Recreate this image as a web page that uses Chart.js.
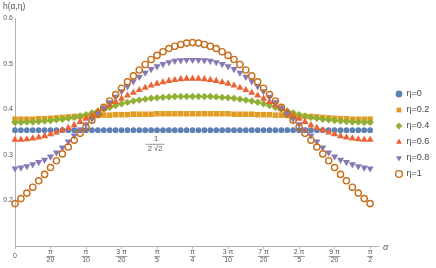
<!DOCTYPE html>
<html>
<head>
<meta charset="utf-8">
<script src="https://cdn.jsdelivr.net/npm/chart.js@4.4.0/dist/chart.umd.min.js"></script>
<style>
  html, body { margin: 0; padding: 0; background: #fff; }
</style>
</head>
<body>
<canvas id="myChart" width="436" height="268"></canvas>
<script>
// alpha in degrees (0 .. pi/2)
var alphaDeg = [0,1.5,3,4.5,6,7.5,9,10.5,12,13.5,15,16.5,18,19.5,21,22.5,24,25.5,27,28.5,
    30,31.5,33,34.5,36,37.5,39,40.5,42,43.5,45,46.5,48,49.5,51,52.5,54,55.5,57,58.5,
    60,61.5,63,64.5,66,67.5,69,70.5,72,73.5,75,76.5,78,79.5,81,82.5,84,85.5,87,88.5,90];

var etaLabels = ['η=0', 'η=0.2', 'η=0.4', 'η=0.6', 'η=0.8', 'η=1'];

var hEta0 = [0.354,0.354,0.354,0.354,0.354,0.354,0.354,0.354,0.354,0.354,
    0.354,0.354,0.354,0.354,0.354,0.354,0.354,0.354,0.354,0.354,
    0.354,0.354,0.354,0.354,0.354,0.354,0.354,0.354,0.354,0.354,
    0.354,0.354,0.354,0.354,0.354,0.354,0.354,0.354,0.354,0.354,
    0.354,0.354,0.354,0.354,0.354,0.354,0.354,0.354,0.354,0.354,
    0.354,0.354,0.354,0.354,0.354,0.354,0.354,0.354,0.354,0.354,0.354];

var hEta02 = [0.378,0.378,0.378,0.378,0.379,0.379,0.380,0.381,0.382,0.383,0.384,0.384,0.385,0.386,0.386,
    0.387,0.387,0.388,0.388,0.388,0.389,0.389,0.389,0.389,0.390,0.390,0.390,0.390,0.390,0.390,0.390,
    0.390,0.390,0.390,0.390,0.390,0.390,0.389,0.389,0.389,0.389,0.388,0.388,0.388,0.387,0.387,
    0.386,0.386,0.385,0.384,0.384,0.383,0.382,0.381,0.380,0.379,0.379,0.378,0.378,0.378,0.378];

var hEta04 = [0.371,0.371,0.372,0.372,0.373,0.374,0.375,0.377,0.378,0.380,0.382,0.385,0.388,0.392,0.396,
    0.400,0.404,0.408,0.412,0.415,0.418,0.420,0.422,0.424,0.425,0.426,0.427,0.428,0.428,0.428,0.428,
    0.428,0.428,0.428,0.427,0.426,0.425,0.424,0.422,0.420,0.418,0.415,0.412,0.408,0.404,0.400,
    0.396,0.392,0.388,0.385,0.382,0.380,0.378,0.377,0.375,0.374,0.373,0.372,0.372,0.371,0.371];

var hEta06 = [0.333,0.333,0.334,0.336,0.338,0.341,0.345,0.349,0.354,0.359,0.365,0.372,0.379,0.386,0.394,
    0.401,0.409,0.416,0.423,0.430,0.436,0.442,0.447,0.452,0.456,0.459,0.462,0.464,0.466,0.467,0.467,
    0.467,0.466,0.464,0.462,0.459,0.456,0.452,0.447,0.442,0.436,0.430,0.423,0.416,0.409,0.401,
    0.394,0.386,0.379,0.372,0.365,0.359,0.354,0.349,0.345,0.341,0.338,0.336,0.334,0.333,0.333];

var hEta08 = [0.270,0.272,0.275,0.279,0.284,0.289,0.296,0.305,0.316,0.329,0.342,0.355,0.367,0.379,0.391,
    0.403,0.415,0.427,0.439,0.450,0.461,0.471,0.480,0.488,0.494,0.499,0.503,0.506,0.507,0.508,0.508,
    0.508,0.507,0.506,0.503,0.499,0.494,0.488,0.480,0.471,0.461,0.450,0.439,0.427,0.415,0.403,
    0.391,0.379,0.367,0.355,0.342,0.329,0.316,0.305,0.296,0.289,0.284,0.279,0.275,0.272,0.270];

var hEta1 = [0.193,0.204,0.216,0.229,0.243,0.257,0.272,0.287,0.302,0.317,0.332,0.347,0.361,0.376,0.390,
    0.404,0.418,0.432,0.446,0.460,0.473,0.486,0.498,0.509,0.518,0.526,0.533,0.538,0.542,0.545,0.546,
    0.545,0.542,0.538,0.533,0.526,0.518,0.509,0.498,0.486,0.473,0.460,0.446,0.432,0.418,0.404,
    0.390,0.376,0.361,0.347,0.332,0.317,0.302,0.287,0.272,0.257,0.243,0.229,0.216,0.204,0.193];

// x ticks at k*pi/20, label = numerator over denominator
var xTickDeg = [0, 9, 18, 27, 36, 45, 54, 63, 72, 81, 90];
var xTickTop = ['0', 'π', 'π', '3 π', 'π', 'π', '3 π', '7 π', '2 π', '9 π', 'π'];
var xTickBottom = ['', '20', '10', '20', '5', '4', '10', '20', '5', '20', '2'];

var yTicks = [0.2, 0.3, 0.4, 0.5, 0.6];

var series = [hEta0, hEta02, hEta04, hEta06, hEta08, hEta1];

// marker styles, in the same order as series
var fillColors = ['#5e81b5', '#e19c24', '#8fb032', '#eb6235', '#8778b3', 'rgba(0,0,0,0)'];
var lineColors = ['#5e81b5', '#e19c24', '#8fb032', '#eb6235', '#8778b3', '#c56e1a'];
var shapes = ['circle', 'rect', 'rectRot', 'triangle', 'triangle', 'circle'];
var rotations = [0, 0, 0, 0, 180, 0];
var radii = [2.9, 3.9, 3.7, 4.1, 4.1, 3.1];
var borders = [0, 0, 0, 0, 0, 1.4];

var fontFam = '"Liberation Sans", Arial, sans-serif';
var axisColor = '#b0b0b0';
var textColor = '#555';

var datasets = series.map(function(vals, i) {
    return {
        label: etaLabels[i],
        data: vals.map(function(v, k) { return {x: alphaDeg[k], y: v}; }),
        backgroundColor: fillColors[i],
        borderColor: lineColors[i],
        borderWidth: borders[i],
        pointStyle: shapes[i],
        rotation: rotations[i],
        pointRadius: radii[i],
        pointHoverRadius: radii[i],
        showLine: false,
        clip: false,
        order: series.length - i
    };
});

// texts that are not ticks: axis names, 1/(2 sqrt 2) note, fraction bars
var extraText = {
    id: 'extraText',
    afterInit: function(chart) {
        // legend keeps a fixed width so the plot ends where the axis ends
        var lg = chart.legend;
        var fit = lg.fit;
        lg.fit = function() { fit.call(this); this.width = 58; };
    },
    afterLayout: function(chart) {
        chart.legend.left += 11;
        chart.legend.right += 11;
        chart.legend.top -= 9;
        chart.legend.bottom -= 9;
    },
    afterDraw: function(chart) {
        var ctx = chart.ctx, xs = chart.scales.x, ys = chart.scales.y, area = chart.chartArea;
        ctx.save();
        ctx.fillStyle = textColor;
        ctx.strokeStyle = textColor;
        ctx.textBaseline = 'middle';

        ctx.font = '8.5px ' + fontFam;
        ctx.textAlign = 'left';
        ctx.fillText('h(α,η)', area.left - 12, area.top - 11);

        ctx.font = 'italic 9px ' + fontFam;
        ctx.fillText('α', area.right + 5, area.bottom + 1);

        // fraction bars under the pi numerators
        ctx.font = '7px ' + fontFam;
        ctx.lineWidth = 0.6;
        xs.ticks.forEach(function(t, i) {
            if (!xTickBottom[i]) return;
            var x = xs.getPixelForTick(i);
            var w = Math.max(ctx.measureText(xTickTop[i]).width, ctx.measureText(xTickBottom[i]).width) + 1;
            ctx.beginPath();
            ctx.moveTo(x - w / 2, area.bottom + 10.5);
            ctx.lineTo(x + w / 2, area.bottom + 10.5);
            ctx.stroke();
        });

        // 1/(2 sqrt 2) next to the eta=0 row
        var cx = xs.getPixelForValue(35.5), cy = ys.getPixelForValue(0.323);
        ctx.font = '7.5px ' + fontFam;
        ctx.textAlign = 'center';
        ctx.fillText('1', cx + 1, cy - 5);
        ctx.fillText('2 √2', cx, cy + 5);
        ctx.beginPath();
        ctx.moveTo(cx - 9.5, cy);
        ctx.lineTo(cx + 9.5, cy);
        ctx.stroke();
        ctx.restore();
    }
};

var ctx = document.getElementById('myChart');

var myChart = new Chart(ctx, {
    type: 'scatter',
    data: { datasets: datasets },
    options: {
        responsive: false,
        animation: false,
        layout: { padding: { top: 18, left: 0, right: 0, bottom: 0 } },
        plugins: {
            tooltip: { enabled: false },
            legend: {
                position: 'right',
                align: 'center',
                labels: {
                    usePointStyle: true,
                    boxWidth: 6,
                    boxHeight: 4.8,
                    padding: 7,
                    color: '#444',
                    font: { size: 9, family: fontFam },
                    sort: function(a, b) { return a.datasetIndex - b.datasetIndex; }
                }
            }
        },
        scales: {
            x: {
                type: 'linear',
                min: 0,
                max: 92,
                afterFit: function(scale) { scale.height = 22; },
                afterBuildTicks: function(scale) {
                    scale.ticks = xTickDeg.map(function(v) { return {value: v}; });
                },
                border: { color: axisColor, width: 1 },
                grid: { drawOnChartArea: false, drawTicks: true, tickLength: 3, color: axisColor },
                ticks: {
                    autoSkip: false,
                    maxRotation: 0,
                    padding: 3.5,
                    crossAlign: 'center',
                    color: textColor,
                    font: { size: 7, family: fontFam, lineHeight: 1.15 },
                    callback: function(value, index) {
                        return xTickBottom[index] ? [xTickTop[index], xTickBottom[index]] : xTickTop[index];
                    }
                }
            },
            y: {
                type: 'linear',
                min: 0.1,
                max: 0.6,
                afterFit: function(scale) { scale.width = 15; },
                afterBuildTicks: function(scale) {
                    scale.ticks = yTicks.map(function(v) { return {value: v}; });
                },
                border: { color: axisColor, width: 1 },
                grid: { display: true, drawOnChartArea: false, drawTicks: false },
                ticks: {
                    padding: 2,
                    color: textColor,
                    font: { size: 7, family: fontFam },
                    callback: function(value) { return value.toFixed(1); }
                }
            }
        }
    },
    plugins: [extraText]
});
</script>
</body>
</html>
